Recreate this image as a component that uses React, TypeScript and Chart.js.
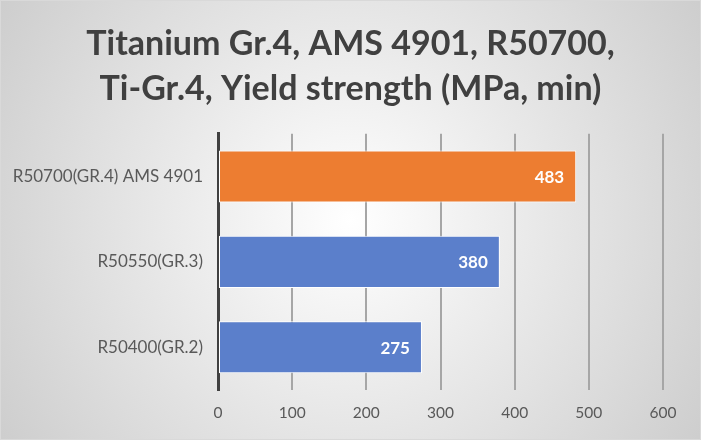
import { useEffect, useRef } from 'react';
import { Chart, registerables } from 'chart.js';

Chart.register(...registerables);

const GRADES = ['R50700(GR.4) AMS 4901', 'R50550(GR.3)', 'R50400(GR.2)'];
const YIELD_MPA = [483, 380, 275];
const BAR_COLORS = ['#ed7d31', '#5b7fcb', '#5b7fcb'];
const TITLE_LINES = ['Titanium Gr.4, AMS 4901, R50700,', 'Ti-Gr.4, Yield strength (MPa, min)'];

const FONT = 'Lato, "Open Sans", sans-serif';

// radial grey background + thin frame, like the office chart area
const backdrop = {
  id: 'backdrop',
  beforeDraw(chart: Chart) {
    const { ctx, width, height } = chart;
    ctx.save();
    const g = ctx.createRadialGradient(width / 2, height / 2, 0, width / 2, height / 2, width * 0.62);
    g.addColorStop(0, '#ffffff');
    g.addColorStop(1, '#cbcbcb');
    ctx.fillStyle = g;
    ctx.fillRect(0, 0, width, height);
    ctx.strokeStyle = '#d9d9d9';
    ctx.lineWidth = 1;
    ctx.strokeRect(0.5, 0.5, width - 1, height - 1);
    ctx.restore();
  },
};

// values written inside the end of each bar
const endLabels = {
  id: 'endLabels',
  afterDatasetsDraw(chart: Chart) {
    const { ctx } = chart;
    const meta = chart.getDatasetMeta(0);
    ctx.save();
    ctx.font = `bold 17px ${FONT}`;
    ctx.fillStyle = '#ffffff';
    ctx.textAlign = 'right';
    ctx.textBaseline = 'middle';
    meta.data.forEach((bar: any, i) => {
      ctx.fillText(String(YIELD_MPA[i]), bar.x - 12, bar.y + 1);
    });
    ctx.restore();
  },
};

export default function App() {
  const ref = useRef<HTMLCanvasElement>(null);

  useEffect(() => {
    document.body.style.margin = '0';
    if (!ref.current) return;
    const chart = new Chart(ref.current, {
      type: 'bar',
      data: {
        labels: GRADES,
        datasets: [
          {
            data: YIELD_MPA,
            backgroundColor: BAR_COLORS,
            borderColor: '#ffffff',
            borderWidth: 1,
            borderSkipped: false,
            barPercentage: 0.61,
            categoryPercentage: 1,
          },
        ],
      },
      options: {
        indexAxis: 'y',
        responsive: false,
        animation: false,
        layout: { padding: { left: 10, right: 10, top: 0, bottom: 0 } },
        plugins: {
          legend: { display: false },
          tooltip: { enabled: false },
          title: {
            display: true,
            text: TITLE_LINES,
            color: '#404040',
            font: { family: FONT, size: 34, weight: 'bold', lineHeight: 1.32 },
            padding: { top: 22, bottom: 22 },
          },
        },
        scales: {
          x: {
            min: 0,
            max: 600,
            ticks: { stepSize: 100, color: '#595959', font: { family: FONT, size: 15.5 }, padding: 14 },
            grid: { color: '#a6a6a6', lineWidth: 2, drawTicks: false },
            border: { display: false },
            afterFit: (s: any) => { s.height = 50; },
          },
          y: {
            ticks: { color: '#595959', font: { family: FONT, size: 17 }, padding: 15 },
            grid: { display: false, drawTicks: false },
            border: { display: true, color: '#404040', width: 3 },
            afterFit: (s: any) => { s.width = 208; },
          },
          // empty right axis only to leave room on the right, so the title stays centred on the page
          yRight: {
            type: 'category',
            position: 'right',
            ticks: { display: false },
            grid: { display: false, drawTicks: false },
            border: { display: false },
            afterFit: (s: any) => { s.width = 28; },
          },
        },
      },
      plugins: [backdrop, endLabels],
    });
    return () => chart.destroy();
  }, []);

  return <canvas ref={ref} width={701} height={440} style={{ display: 'block' }} />;
}
